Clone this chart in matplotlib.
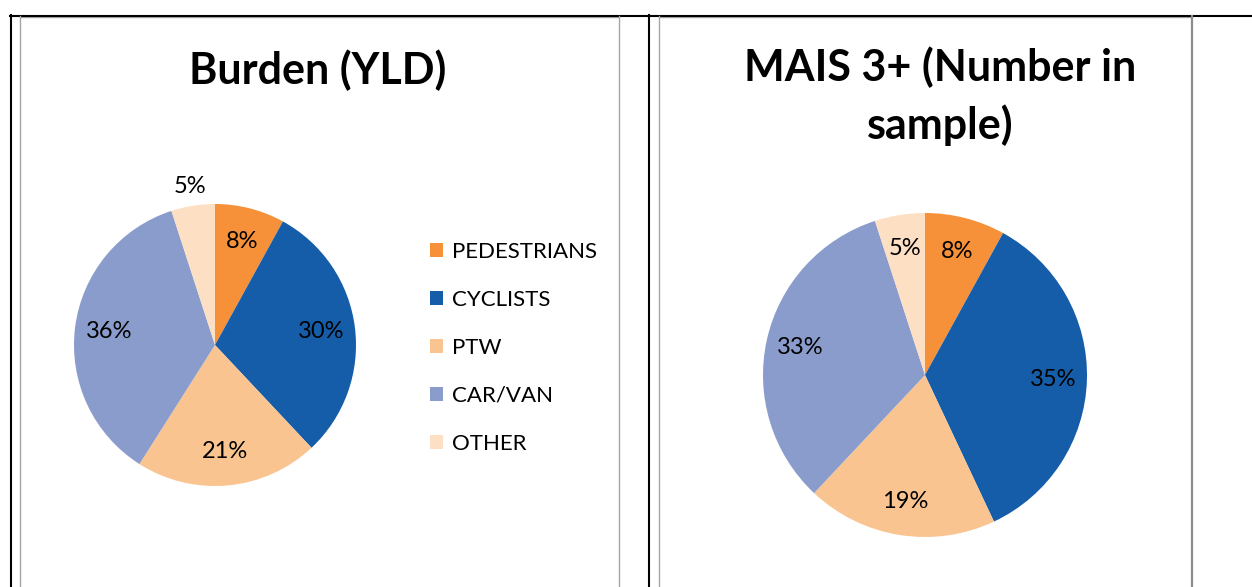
import matplotlib
matplotlib.use("Agg")
import matplotlib.pyplot as plt
from matplotlib.lines import Line2D
import numpy as np

# data
categories = ["PEDESTRIANS", "CYCLISTS", "PTW", "CAR/VAN", "OTHER"]
burden_yld = [8, 30, 21, 36, 5]
mais3_sample = [8, 35, 19, 33, 5]
colours = ["#F79139", "#165DA9", "#FAC491", "#8A9CCB", "#FDDFC4"]

W, H = 1252, 587
plt.rcParams["font.family"] = ["Lato", "DejaVu Sans"]

fig = plt.figure(figsize=(W / 100, H / 100), dpi=100)


def fx(x):
    return x / W


def fy(y):
    return 1 - y / H


def line(x0, y0, x1, y1, col, lw):
    fig.add_artist(Line2D([fx(x0), fx(x1)], [fy(y0), fy(y1)],
                          transform=fig.transFigure, color=col, lw=lw))


# table / chart borders
line(19.5, 16.5, 618.5, 16.5, "#A6A6A6", 1.0)
line(658.5, 16.5, 1191.5, 16.5, "#A6A6A6", 1.0)
line(10, 15.5, 1252, 15.5, "black", 1.5)
line(10.5, 15, 10.5, 587, "black", 1.5)
line(19.5, 16, 19.5, 587, "#A6A6A6", 1.0)
line(618.5, 16, 618.5, 587, "#A6A6A6", 1.0)
line(648.5, 15, 648.5, 587, "black", 1.5)
line(658.5, 16, 658.5, 587, "#A6A6A6", 1.0)
line(1191.5, 16, 1191.5, 587, "#8C8C8C", 1.6)


def pie_axes(cx, cy, r):
    ax = fig.add_axes([fx(cx - r), fy(cy + r), (2 * r) / W, (2 * r) / H])
    return ax


lbl_font = 17
title_font = 31

# left chart
ax1 = pie_axes(215, 345, 141)
w1, t1, a1 = ax1.pie(burden_yld, colors=colours, startangle=90, counterclock=False,
                     autopct="%.0f%%", pctdistance=0.76, radius=1,
                     textprops={"fontsize": lbl_font, "color": "black"})
ax1.set_xlim(-1, 1)
ax1.set_ylim(-1, 1)
ax1.axis("off")
# small OTHER slice label sits outside
ang = np.deg2rad((w1[4].theta1 + w1[4].theta2) / 2)
a1[4].set_position((1.14 * np.cos(ang), 1.14 * np.sin(ang)))

fig.text(fx(318), fy(70), "Burden (YLD)", ha="center", va="center",
         fontsize=title_font, fontweight="bold")

fig.legend(w1, categories, loc="center left",
           bbox_to_anchor=(fx(410), fy(348)), frameon=False,
           fontsize=16, handlelength=0.6, handleheight=0.6,
           handletextpad=0.4, labelspacing=1.26)

# right chart
ax2 = pie_axes(925, 375, 162)
w2, t2, a2 = ax2.pie(mais3_sample, colors=colours, startangle=90, counterclock=False,
                     autopct="%.0f%%", pctdistance=0.79, radius=1,
                     textprops={"fontsize": lbl_font, "color": "black"})
ax2.set_xlim(-1, 1)
ax2.set_ylim(-1, 1)
ax2.axis("off")

fig.text(fx(940), fy(67), "MAIS 3+ (Number in", ha="center", va="center",
         fontsize=title_font, fontweight="bold")
fig.text(fx(940), fy(125), "sample)", ha="center", va="center",
         fontsize=title_font, fontweight="bold")

fig.savefig("out.png", dpi=100, facecolor="white")
